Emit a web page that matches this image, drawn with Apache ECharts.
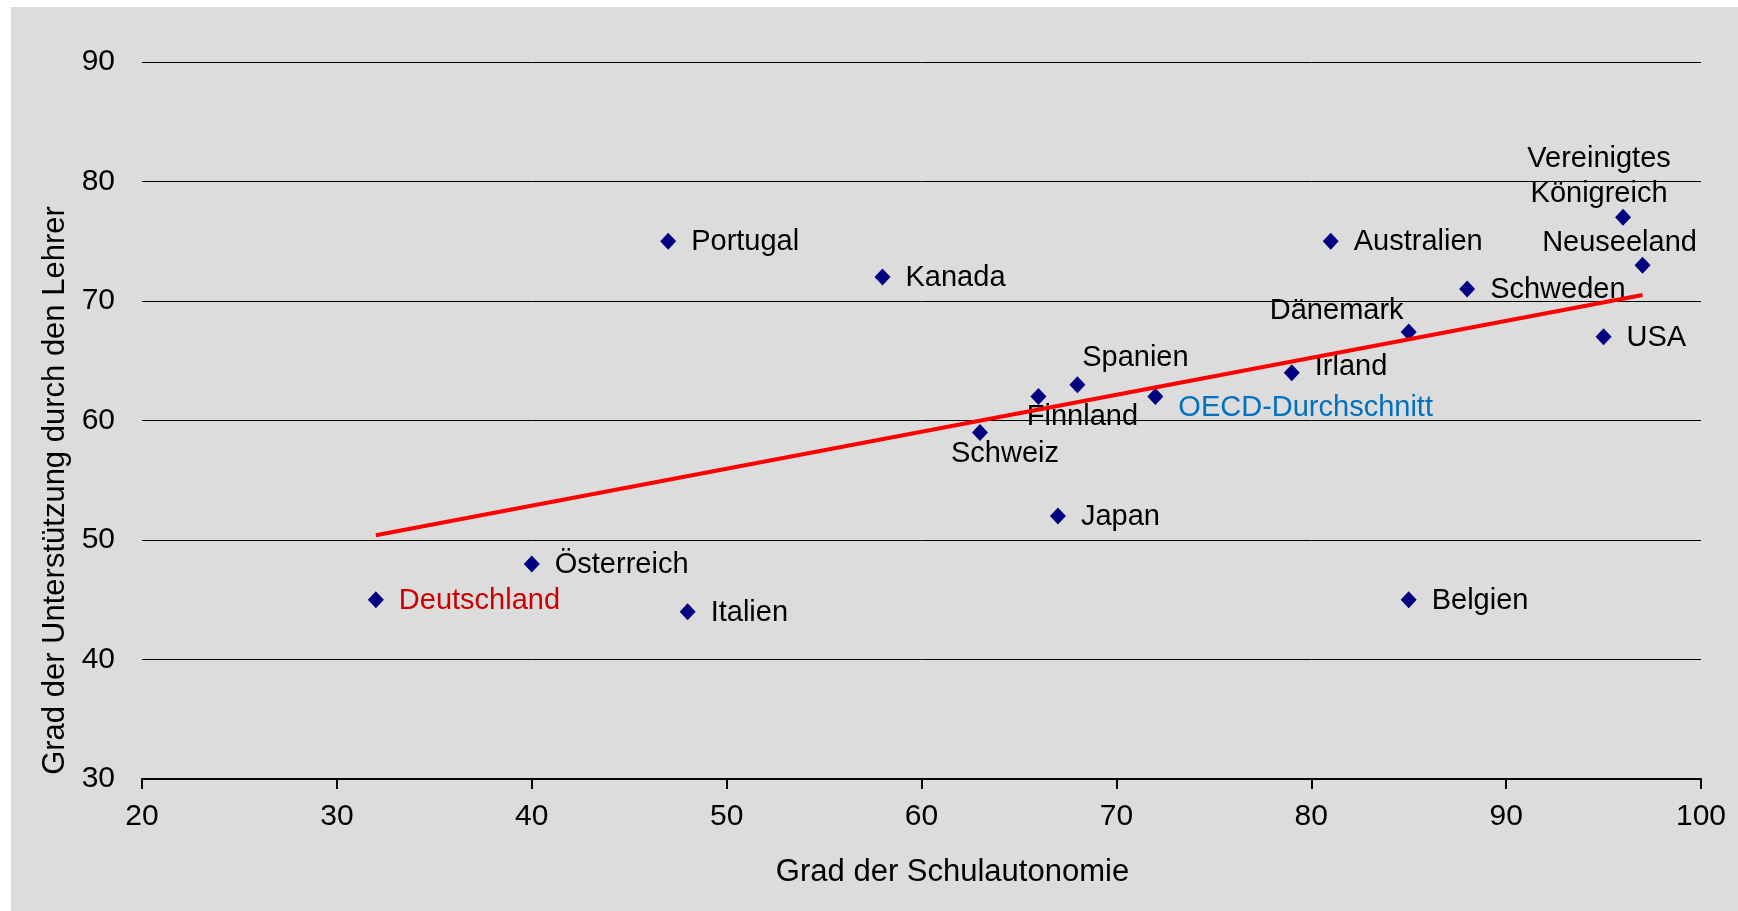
<!DOCTYPE html>
<html>
<head>
<meta charset="utf-8">
<script src="https://cdn.jsdelivr.net/npm/echarts@6/dist/echarts.min.js"></script>
<style>
  html, body { margin: 0; padding: 0; background: #ffffff; }
  #chart {
    position: absolute;
    left: 11px;
    top: 7px;
    width: 1727px;
    height: 904px;
    background: #dcdcdc;
  }
</style>
</head>
<body>
<div id="chart"></div>
<script>
// Daten
const countries = [
  "Portugal", "Kanada", "Australien", "Vereinigtes\nKönigreich", "Neuseeland",
  "Schweden", "Dänemark", "USA", "Irland", "Spanien", "Finnland",
  "OECD-Durchschnitt", "Schweiz", "Japan", "Österreich", "Deutschland",
  "Italien", "Belgien"
];
const autonomy = [47, 58, 81, 96, 97, 88, 85, 95, 79, 68, 66, 72, 63, 67, 40, 32, 48, 85];
const support = [75, 72, 75, 77, 73, 71, 67.4, 67, 64, 63, 62, 62, 59, 52, 48, 45, 44, 45];
const trendAutonomy = [32, 97];
const trendSupport = [50.4, 70.5];

// Beschriftung: Sonderfälle (Position relativ zum Punkt)
const labelOffsets = {
  "Vereinigtes\nKönigreich": [-24, -41],
  "Neuseeland": [-23, -22],
  "Dänemark": [-72, -21],
  "Spanien": [58, -27],
  "Finnland": [44, 20],
  "Schweiz": [25, 22]
};
const labelShiftY = { "Irland": -7, "OECD-Durchschnitt": 10 };
const labelColors = { "Deutschland": "#cc0000", "OECD-Durchschnitt": "#0070c0" };

const font = "'Liberation Sans', Arial, sans-serif";

const points = countries.map((name, i) => {
  const color = labelColors[name] || "#000000";
  let label;
  if (labelOffsets[name]) {
    label = {
      show: true,
      position: "inside",
      align: "center",
      verticalAlign: "middle",
      offset: labelOffsets[name],
      color: color
    };
  } else {
    label = {
      show: true,
      position: "right",
      distance: 15,
      offset: [0, (labelShiftY[name] || 0) + 1],
      color: color
    };
  }
  return { name: name, value: [autonomy[i], support[i]], label: label };
});

const chart = echarts.init(document.getElementById("chart"));

const option = {
  animation: false,
  textStyle: { fontFamily: font },
  grid: { left: 131, right: 37, top: 55, bottom: 132 },
  xAxis: {
    type: "value",
    min: 20,
    max: 100,
    interval: 10,
    name: "Grad der Schulautonomie",
    nameLocation: "middle",
    nameGap: 78,
    nameTextStyle: { fontSize: 31, color: "#000", fontFamily: font, padding: [0, 0, 0, 62] },
    axisLine: { show: true, lineStyle: { color: "#000", width: 2 } },
    axisTick: { show: true, inside: false, length: 10, lineStyle: { color: "#000", width: 2 } },
    axisLabel: { fontSize: 30, color: "#000", margin: 23, fontFamily: font },
    splitLine: { show: false }
  },
  yAxis: {
    type: "value",
    min: 30,
    max: 90,
    interval: 10,
    name: "Grad der Unterstützung durch den Lehrer",
    nameLocation: "middle",
    nameGap: 58,
    nameTextStyle: { fontSize: 31, color: "#000", fontFamily: font, padding: [0, 140, 0, 0] },
    axisLine: { show: false },
    axisTick: { show: false },
    axisLabel: { fontSize: 30, color: "#000", margin: 27, fontFamily: font },
    splitLine: { show: true, lineStyle: { color: "#000", width: 1 } }
  },
  series: [
    {
      type: "scatter",
      symbol: "diamond",
      symbolSize: [16, 17],
      itemStyle: { color: "#000080", opacity: 1 },
      label: { formatter: "{b}", fontSize: 29, fontFamily: font, lineHeight: 35 },
      emphasis: { disabled: true },
      data: points,
      z: 2
    },
    {
      type: "line",
      showSymbol: false,
      symbol: "none",
      lineStyle: { color: "#ff0000", width: 4 },
      data: trendAutonomy.map((x, i) => [x, trendSupport[i]]),
      z: 3
    }
  ]
};

chart.setOption(option);
</script>
</body>
</html>
